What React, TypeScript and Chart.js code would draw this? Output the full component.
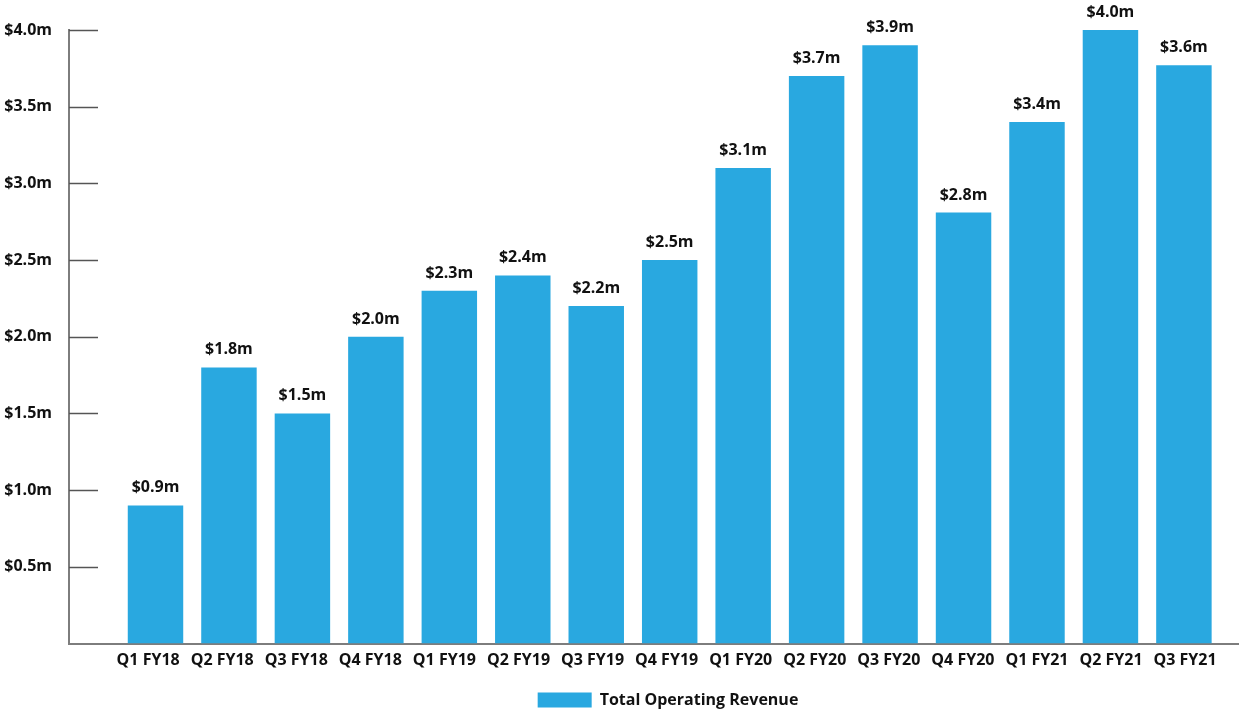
import React, { useEffect, useRef } from "react";
import { Chart, registerables } from "chart.js";

Chart.register(...registerables);

const categories = [
  "Q1 FY18", "Q2 FY18", "Q3 FY18", "Q4 FY18",
  "Q1 FY19", "Q2 FY19", "Q3 FY19", "Q4 FY19",
  "Q1 FY20", "Q2 FY20", "Q3 FY20", "Q4 FY20",
  "Q1 FY21", "Q2 FY21", "Q3 FY21",
];
const revenue = [0.9, 1.8, 1.5, 2.0, 2.3, 2.4, 2.2, 2.5, 3.1, 3.7, 3.9, 2.81, 3.4, 4.0, 3.77];
const valueLabels = [
  "$0.9m", "$1.8m", "$1.5m", "$2.0m", "$2.3m", "$2.4m", "$2.2m", "$2.5m",
  "$3.1m", "$3.7m", "$3.9m", "$2.8m", "$3.4m", "$4.0m", "$3.6m",
];
const seriesName = "Total Operating Revenue";

const FONT = "'Open Sans', 'Noto Sans', sans-serif";
const BAR = "#29A8E0";
const AXIS = "#7d7d7d";

export default function App() {
  const ref = useRef<HTMLCanvasElement | null>(null);
  useEffect(() => {
    if (!ref.current) return;
    const valueLabelPlugin = {
      id: "valueLabels",
      afterDatasetsDraw(chart: any) {
        const ctx = chart.ctx;
        const meta = chart.getDatasetMeta(0);
        ctx.save();
        ctx.font = `bold 16px ${FONT}`;
        ctx.fillStyle = "#111";
        ctx.textAlign = "center";
        ctx.textBaseline = "alphabetic";
        meta.data.forEach((el: any, i: number) => {
          ctx.fillText(valueLabels[i], el.x, el.y - 13);
        });
        ctx.restore();
      },
    };
    const innerTicks = {
      id: "innerTicks",
      afterDraw(chart: any) {
        const y = chart.scales.y;
        const ctx = chart.ctx;
        const left = chart.chartArea.left;
        ctx.save();
        ctx.strokeStyle = "#555";
        ctx.lineWidth = 1.5;
        y.ticks.forEach((t: any) => {
          if (t.value === 0) return;
          const py = Math.round(y.getPixelForValue(t.value)) + 0.5;
          ctx.beginPath();
          ctx.moveTo(left, py);
          ctx.lineTo(left + 29, py);
          ctx.stroke();
        });
        ctx.restore();
      },
    };
    const legendShift = {
      id: "legendShift",
      afterLayout(chart: any) {
        const lg = chart.legend;
        if (lg) {
          lg.left += 14;
          lg.right += 14;
        }
      },
    };
    const chart = new Chart(ref.current, {
      type: "bar",
      data: {
        datasets: [
          {
            label: seriesName,
            data: revenue.map((v, i) => ({ x: i, y: v })),
            backgroundColor: BAR,
            borderWidth: 0,
            barPercentage: 0.755,
            categoryPercentage: 1,
          },
        ],
      },
      options: {
        animation: false,
        responsive: true,
        maintainAspectRatio: false,
        layout: { padding: { top: 30, left: 0, right: 0, bottom: -8 } },
        scales: {
          x: {
            type: "linear",
            offset: false,
            min: -1.1775,
            max: 14.75,
            grid: { display: false, drawTicks: false },
            border: { display: true, color: AXIS, width: 2 },
            afterBuildTicks: (s: any) => {
              s.ticks = categories.map((_, i) => ({ value: -0.1 + i * 1.0083, label: categories[i] }));
            },
            afterFit: (s: any) => {
              s.height = 48.5;
            },
            ticks: {
              padding: 7,
              color: "#111",
              font: { family: FONT, size: 16, weight: "bold" },
              callback: (_v: any, i: number) => categories[i] ?? "",
              autoSkip: false,
              maxRotation: 0,
            },
          },
          y: {
            min: 0,
            max: 4,
            grid: { display: false, drawTicks: false },
            border: { display: true, color: AXIS, width: 2 },
            afterFit: (s: any) => {
              s.width = 69;
            },
            ticks: {
              stepSize: 0.5,
              padding: 17,
              color: "#111",
              font: { family: FONT, size: 16, weight: "bold" },
              callback: (v: any) => (v === 0 ? "" : `$${Number(v).toFixed(1)}m`),
            },
          },
        },
        plugins: {
          legend: {
            position: "bottom",
            fullSize: false,
            labels: {
              boxWidth: 54,
              boxHeight: 15,
              padding: 0,
              color: "#111",
              font: { family: FONT, size: 16, weight: "bold" },
            },
          },
          tooltip: { enabled: false },
        },
      },
      plugins: [valueLabelPlugin, innerTicks, legendShift],
    } as any);
    return () => chart.destroy();
  }, []);
  return (
    <div style={{ position: "absolute", left: 0, top: 0, width: 1239, height: 710 }}>
      <canvas ref={ref} />
    </div>
  );
}
